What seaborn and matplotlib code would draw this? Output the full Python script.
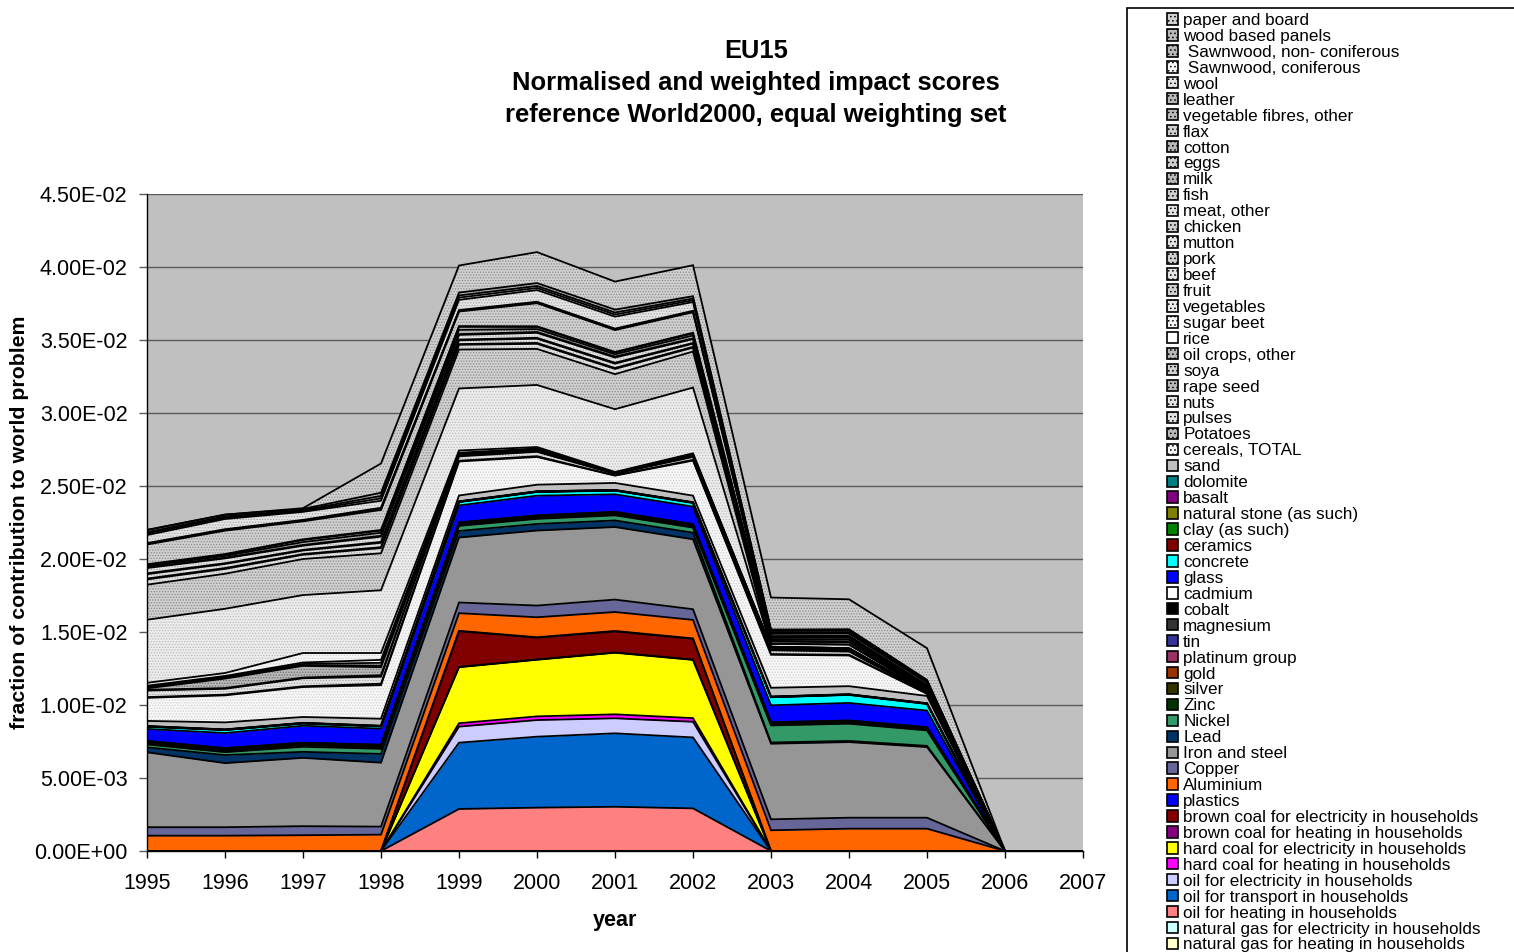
import numpy as np
import matplotlib
matplotlib.use("Agg")
import matplotlib.pyplot as plt
from matplotlib.patches import Patch, Rectangle
import seaborn as sns

sns.set_theme(style="white")
plt.rcParams['font.family'] = ['Liberation Sans', 'DejaVu Sans']
plt.rcParams['hatch.linewidth'] = 0.6
plt.rcParams['text.color'] = 'black'
plt.rcParams['axes.labelcolor'] = 'black'

years = [1995, 1996, 1997, 1998, 1999, 2000, 2001, 2002, 2003, 2004, 2005, 2006, 2007]

# all values in units of 1e-3, listed from the bottom of the stack upwards
natural_gas_heating = [0, 0, 0, 0, 0, 0, 0, 0, 0, 0, 0, 0, 0]
natural_gas_electricity = [0, 0, 0, 0, 0, 0, 0, 0, 0, 0, 0, 0, 0]
oil_heating = [0, 0, 0, 0, 2.88, 2.97, 3.03, 2.92, 0, 0, 0, 0, 0]
oil_transport = [0, 0, 0, 0, 4.54, 4.86, 5.03, 4.86, 0, 0, 0, 0, 0]
oil_electricity = [0, 0, 0, 0, 1.10, 1.14, 1.03, 1.07, 0, 0, 0, 0, 0]
hard_coal_heating = [0, 0, 0, 0, 0.23, 0.25, 0.27, 0.25, 0, 0, 0, 0, 0]
hard_coal_electricity = [0, 0, 0, 0, 3.84, 3.88, 4.22, 3.99, 0, 0, 0, 0, 0]
brown_coal_heating = [0, 0, 0, 0, 0.02, 0.02, 0.02, 0.02, 0, 0, 0, 0, 0]
brown_coal_electricity = [0, 0, 0, 0, 2.44, 1.49, 1.44, 1.42, 0, 0, 0, 0, 0]
plastics = [0, 0, 0, 0, 0.03, 0.03, 0.03, 0.03, 0, 0, 0, 0, 0]
aluminium = [1.05, 1.05, 1.08, 1.12, 1.21, 1.37, 1.30, 1.27, 1.42, 1.53, 1.53, 0, 0]
copper = [0.58, 0.58, 0.62, 0.55, 0.73, 0.80, 0.85, 0.73, 0.75, 0.75, 0.75, 0, 0]
iron_steel = [5.13, 4.39, 4.68, 4.38, 4.45, 5.14, 4.97, 4.79, 5.18, 5.18, 4.84, 0, 0]
lead = [0.34, 0.55, 0.41, 0.60, 0.45, 0.45, 0.45, 0.45, 0.08, 0.08, 0.08, 0, 0]
nickel = [0.20, 0.20, 0.35, 0.35, 0.35, 0.35, 0.35, 0.35, 1.17, 1.18, 1.06, 0, 0]
zinc = [0.08, 0.12, 0.12, 0.12, 0.08, 0.08, 0.08, 0.08, 0.06, 0.06, 0.06, 0, 0]
silver = [0.02, 0.02, 0.02, 0.02, 0.02, 0.02, 0.02, 0.02, 0.02, 0.02, 0.02, 0, 0]
gold = [0.01, 0.01, 0.01, 0.01, 0.01, 0.01, 0.01, 0.01, 0.01, 0.01, 0.01, 0, 0]
platinum = [0.01, 0.01, 0.01, 0.01, 0.01, 0.01, 0.01, 0.01, 0.01, 0.01, 0.01, 0, 0]
tin = [0.03, 0.03, 0.03, 0.03, 0.03, 0.03, 0.03, 0.03, 0.03, 0.03, 0.03, 0, 0]
magnesium = [0.03, 0.03, 0.03, 0.03, 0.03, 0.03, 0.03, 0.03, 0.03, 0.03, 0.03, 0, 0]
cobalt = [0.05, 0.05, 0.05, 0.05, 0.05, 0.05, 0.05, 0.05, 0.05, 0.05, 0.05, 0, 0]
cadmium = [0.01, 0.01, 0.01, 0.01, 0.01, 0.01, 0.01, 0.01, 0.01, 0.01, 0.01, 0, 0]
glass = [0.82, 1.03, 1.16, 1.10, 1.16, 1.35, 1.20, 1.20, 1.16, 1.20, 1.14, 0, 0]
concrete = [0.15, 0.20, 0.15, 0.15, 0.23, 0.25, 0.25, 0.25, 0.55, 0.55, 0.45, 0, 0]
ceramics = [0.01, 0.01, 0.01, 0.01, 0.01, 0.01, 0.01, 0.01, 0.01, 0.01, 0.01, 0, 0]
clay = [0.01, 0.01, 0.01, 0.01, 0.01, 0.01, 0.01, 0.01, 0.01, 0.01, 0.01, 0, 0]
natural_stone = [0.01, 0.01, 0.01, 0.01, 0.01, 0.01, 0.01, 0.01, 0.01, 0.01, 0.01, 0, 0]
basalt = [0.01, 0.01, 0.01, 0.01, 0.01, 0.01, 0.01, 0.01, 0.01, 0.01, 0.01, 0, 0]
dolomite = [0.01, 0.01, 0.01, 0.01, 0.01, 0.01, 0.01, 0.01, 0.01, 0.01, 0.01, 0, 0]
sand = [0.35, 0.48, 0.40, 0.48, 0.40, 0.45, 0.48, 0.45, 0.60, 0.55, 0.50, 0, 0]
cereals = [1.58, 1.85, 2.05, 2.30, 2.33, 1.90, 0.50, 2.40, 2.26, 2.10, 0.15, 0, 0]
potatoes = [0.05, 0.05, 0.05, 0.10, 0.05, 0.05, 0.02, 0.05, 0.05, 0.05, 0.02, 0, 0]
pulses = [0.45, 0.40, 0.55, 0.48, 0.30, 0.30, 0.10, 0.20, 0.25, 0.22, 0.03, 0, 0]
nuts = [0.05, 0.05, 0.05, 0.10, 0.05, 0.05, 0.02, 0.05, 0.05, 0.05, 0.01, 0, 0]
rape_seed = [0.10, 0.65, 0.80, 0.55, 0.05, 0.05, 0.02, 0.05, 0.05, 0.05, 0.01, 0, 0]
soya = [0.05, 0.05, 0.05, 0.10, 0.05, 0.05, 0.02, 0.03, 0.05, 0.05, 0.01, 0, 0]
oil_crops = [0.08, 0.08, 0.08, 0.20, 0.05, 0.05, 0.02, 0.04, 0.05, 0.04, 0.01, 0, 0]
rice = [0.05, 0.05, 0.10, 0.20, 0.05, 0.03, 0.02, 0.03, 0.02, 0.02, 0.005, 0, 0]
sugar_beet = [0.20, 0.20, 0.65, 0.47, 0.15, 0.10, 0.03, 0.05, 0.03, 0.02, 0.005, 0, 0]
vegetables = [4.32, 4.40, 3.97, 4.30, 4.25, 4.25, 4.30, 4.50, 0, 0, 0, 0, 0]
fruit = [2.40, 2.40, 2.47, 2.53, 2.67, 2.47, 2.40, 2.47, 0, 0, 0, 0, 0]
beef = [0.36, 0.33, 0.29, 0.36, 0.32, 0.35, 0.36, 0.27, 0.20, 0.24, 0.09, 0, 0]
pork = [0.06, 0.06, 0.05, 0.06, 0.05, 0.06, 0.06, 0.05, 0.01, 0.02, 0.02, 0, 0]
mutton = [0.30, 0.28, 0.24, 0.30, 0.26, 0.29, 0.30, 0.22, 0.15, 0.15, 0.08, 0, 0]
chicken = [0.06, 0.05, 0.05, 0.06, 0.05, 0.06, 0.06, 0.05, 0.01, 0.02, 0.02, 0, 0]
meat_other = [0.36, 0.33, 0.28, 0.36, 0.32, 0.34, 0.36, 0.26, 0.10, 0.15, 0.07, 0, 0]
fish = [0.06, 0.05, 0.05, 0.06, 0.05, 0.06, 0.06, 0.05, 0.01, 0.02, 0.02, 0, 0]
milk = [0.09, 0.12, 0.20, 0.21, 0.30, 0.20, 0.16, 0.20, 0.12, 0.12, 0.09, 0, 0]
eggs = [0.06, 0.08, 0.14, 0.14, 0.20, 0.14, 0.11, 0.14, 0.08, 0.08, 0.06, 0, 0]
cotton = [0.05, 0.05, 0.05, 0.05, 0.05, 0.05, 0.05, 0.05, 0.05, 0.05, 0.05, 0, 0]
flax = [1.35, 1.60, 1.23, 1.37, 1.00, 1.58, 1.50, 1.40, 0.15, 0.15, 0.15, 0, 0]
veg_fibres = [0.05, 0.05, 0.05, 0.08, 0.05, 0.05, 0.05, 0.05, 0.05, 0.05, 0.03, 0, 0]
leather = [0.05, 0.05, 0.05, 0.07, 0.05, 0.05, 0.05, 0.05, 0.05, 0.05, 0.02, 0, 0]
wool = [0.55, 0.70, 0.55, 0.48, 0.70, 0.80, 0.82, 0.60, 0.10, 0.10, 0.05, 0, 0]
sawn_con = [0.10, 0.09, 0.06, 0.16, 0.15, 0.14, 0.14, 0.12, 0.03, 0.03, 0.03, 0, 0]
sawn_noncon = [0.10, 0.09, 0.06, 0.17, 0.15, 0.14, 0.14, 0.12, 0.03, 0.03, 0.03, 0, 0]
wood_panels = [0.15, 0.12, 0.08, 0.22, 0.20, 0.20, 0.20, 0.16, 0.04, 0.04, 0.04, 0, 0]
paper_board = [0, 0, 0.05, 2.00, 1.85, 2.12, 1.92, 2.12, 2.19, 2.05, 2.17, 0, 0]

# stipple tones: (face, dot colour)
VL = ('#f7f7f7', '#cfcfcf')
PA = ('#ececec', '#bcbcbc')
LI = ('#e4e4e4', '#a8a8a8')
ME = ('#d0d0d0', '#8a8a8a')
DK = ('#b8b8b8', '#6a6a6a')

series = [
    ("natural gas for heating in households", natural_gas_heating, '#FFFFCC', None),
    ("natural gas for electricity in households", natural_gas_electricity, '#CCFFFF', None),
    ("oil for heating in households", oil_heating, '#FF8080', None),
    ("oil for transport in households", oil_transport, '#0066CC', None),
    ("oil for electricity in households", oil_electricity, '#CCCCFF', None),
    ("hard coal for heating in households", hard_coal_heating, '#FF00FF', None),
    ("hard coal for electricity in households", hard_coal_electricity, '#FFFF00', None),
    ("brown coal for heating in households", brown_coal_heating, '#800080', None),
    ("brown coal for electricity in households", brown_coal_electricity, '#800000', None),
    ("plastics", plastics, '#0000FF', None),
    ("Aluminium", aluminium, '#FF6600', None),
    ("Copper", copper, '#666699', None),
    ("Iron and steel", iron_steel, '#969696', None),
    ("Lead", lead, '#003366', None),
    ("Nickel", nickel, '#339966', None),
    ("Zinc", zinc, '#003300', None),
    ("silver", silver, '#333300', None),
    ("gold", gold, '#993300', None),
    ("platinum group", platinum, '#993366', None),
    ("tin", tin, '#333399', None),
    ("magnesium", magnesium, '#333333', None),
    ("cobalt", cobalt, '#000000', None),
    ("cadmium", cadmium, '#FFFFFF', None),
    ("glass", glass, '#0000FF', None),
    ("concrete", concrete, '#00FFFF', None),
    ("ceramics", ceramics, '#800000', None),
    ("clay (as such)", clay, '#008000', None),
    ("natural stone (as such)", natural_stone, '#808000', None),
    ("basalt", basalt, '#800080', None),
    ("dolomite", dolomite, '#008080', None),
    ("sand", sand, '#C0C0C0', None),
    ("cereals, TOTAL", cereals, VL[0], VL[1]),
    ("Potatoes", potatoes, DK[0], DK[1]),
    ("pulses", pulses, LI[0], LI[1]),
    ("nuts", nuts, LI[0], LI[1]),
    ("rape seed", rape_seed, DK[0], DK[1]),
    ("soya", soya, ME[0], ME[1]),
    ("oil crops, other", oil_crops, DK[0], DK[1]),
    ("rice", rice, '#FFFFFF', None),
    ("sugar beet", sugar_beet, VL[0], VL[1]),
    ("vegetables", vegetables, PA[0], PA[1]),
    ("fruit", fruit, ME[0], ME[1]),
    ("beef", beef, LI[0], LI[1]),
    ("pork", pork, ME[0], ME[1]),
    ("mutton", mutton, LI[0], LI[1]),
    ("chicken", chicken, ME[0], ME[1]),
    ("meat, other", meat_other, LI[0], LI[1]),
    ("fish", fish, ME[0], ME[1]),
    ("milk", milk, DK[0], DK[1]),
    ("eggs", eggs, ME[0], ME[1]),
    ("cotton", cotton, DK[0], DK[1]),
    ("flax", flax, ME[0], ME[1]),
    ("vegetable fibres, other", veg_fibres, DK[0], DK[1]),
    ("leather", leather, DK[0], DK[1]),
    ("wool", wool, LI[0], LI[1]),
    (" Sawnwood, coniferous", sawn_con, VL[0], VL[1]),
    (" Sawnwood, non- coniferous", sawn_noncon, DK[0], DK[1]),
    ("wood based panels", wood_panels, DK[0], DK[1]),
    ("paper and board", paper_board, ME[0], ME[1]),
]

names = [s[0] for s in series]
values = np.array([s[1] for s in series], dtype=float) * 1e-3
faces = [s[2] for s in series]
dots = [s[3] for s in series]

fig = plt.figure(figsize=(15.14, 9.52), dpi=100)
ax = fig.add_axes([147 / 1514, 1 - 851 / 952, 936 / 1514, 657 / 952])
ax.set_facecolor('#C0C0C0')

polys = ax.stackplot(years, values, colors=faces, linewidth=0)
for poly, dot in zip(polys, dots):
    if dot is not None:
        poly.set_hatch('......')
        poly.set_edgecolor(dot)
        poly.set_linewidth(0)

# black outline on top of every series
tops = np.cumsum(values, axis=0)
for row in tops:
    ax.plot(years, row, color='black', lw=1.3, solid_joinstyle='miter')

ax.set_xlim(1995, 2007)
ax.set_ylim(0, 0.045)
ax.set_yticks(np.arange(0, 0.0451, 0.005))
ax.set_yticklabels(['{:.2E}'.format(v) for v in np.arange(0, 0.0451, 0.005)])
ax.set_xticks(years)
ax.grid(axis='y', color='#5a5a5a', lw=1.0)
ax.grid(axis='x', visible=False)
ax.set_axisbelow(True)
for side in ['top', 'right']:
    ax.spines[side].set_visible(False)
for side in ['left', 'bottom']:
    ax.spines[side].set_color('black')
    ax.spines[side].set_linewidth(1.0)
ax.tick_params(axis='y', direction='out', length=6, width=1, pad=8, labelsize=15.5,
               color='#5a5a5a', labelcolor='black', left=True)
ax.tick_params(axis='x', direction='out', length=5, width=1, pad=11, labelsize=15.5,
               color='black', labelcolor='black', bottom=True)

ax.set_xlabel('year', fontsize=15.5, fontweight='bold')
ax.xaxis.set_label_coords(0.5, -0.090)
ax.set_ylabel('fraction of contribution to world problem', fontsize=15.3, fontweight='bold')
ax.yaxis.set_label_coords(-0.126, 0.5)

fig.text(0.4995, 1 - 83 / 952,
         'EU15\nNormalised and weighted impact scores\nreference World2000, equal weighting set',
         ha='center', va='center', fontsize=18.4, fontweight='bold', linespacing=1.43)

handles = [Patch(facecolor=f, edgecolor='black', hatch=('....' if d else None), lw=1.2)
           for f, d in zip(faces, dots)]
leg = fig.legend(handles[::-1], names[::-1], loc='upper left',
                 bbox_to_anchor=(1167 / 1514, 1 - 13 / 952),
                 frameon=False, fontsize=12.3, labelspacing=0.055,
                 handlelength=0.65, handleheight=0.65, handletextpad=0.3,
                 borderpad=0, borderaxespad=0)
fig.add_artist(Rectangle((1127 / 1514, -0.05), 0.3, 1.05 - 8 / 952,
                         transform=fig.transFigure, fill=False, lw=1.2, edgecolor='black'))

fig.savefig('out.png', dpi=100)
